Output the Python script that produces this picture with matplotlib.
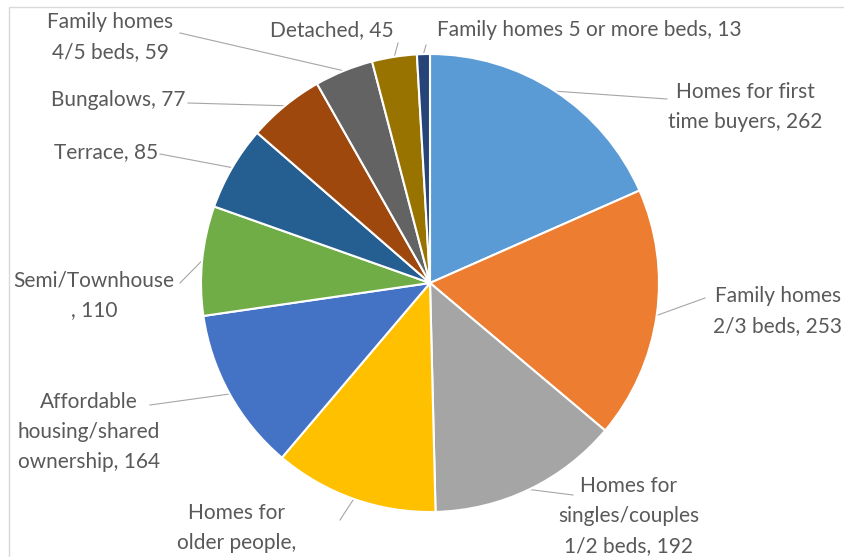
import matplotlib
matplotlib.use("Agg")
import matplotlib.pyplot as plt
import numpy as np
from matplotlib.patches import Rectangle

# ---- data ----
categories = [
    "Homes for first time buyers",
    "Family homes 2/3 beds",
    "Homes for singles/couples 1/2 beds",
    "Homes for older people",
    "Affordable housing/shared ownership",
    "Semi/Townhouse",
    "Terrace",
    "Bungalows",
    "Family homes 4/5 beds",
    "Detached",
    "Family homes 5 or more beds",
]
values = [262, 253, 192, 165, 164, 110, 85, 77, 59, 45, 13]
label_templates = [
    "Homes for first\ntime buyers, {}",
    "Family homes\n2/3 beds, {}",
    "Homes for\nsingles/couples\n1/2 beds, {}",
    "Homes for\nolder people,\n{}",
    "Affordable\nhousing/shared\nownership, {}",
    "Semi/Townhouse\n, {}",
    "Terrace, {}",
    "Bungalows, {}",
    "Family homes\n4/5 beds, {}",
    "Detached, {}",
    "Family homes 5 or more beds, {}",
]
colors = ["#5B9BD5", "#ED7D31", "#A5A5A5", "#FFC000", "#4472C4", "#70AD47",
          "#255E91", "#9E480E", "#636363", "#997300", "#264478"]

# ---- layout (pixel units, y measured from top) ----
W, H = 845, 557
cx, cy, R = 430, 283, 229
label_pos = [(745, 107), (778, 311), (629, 516), (237, 543), (89, 432), (94, 295),
             (106, 152), (118, 100), (110, 37), (332, 30), (589, 30)]
line_end = [(667, 99), (705, 298), (573, 495), (340, 520), (150, 405), (180, 283),
            (160, 154), (188, 103), (180, 33), (398, 43), (426, 45)]

fig = plt.figure(figsize=(W / 100, H / 100), dpi=100)
ax = fig.add_axes([0, 0, 1, 1])
ax.set_xlim(0, W)
ax.set_ylim(0, H)
ax.axis("off")

wedges, _ = ax.pie(values, colors=colors, startangle=90, counterclock=False,
                   center=(cx, H - cy), radius=R,
                   wedgeprops=dict(edgecolor="white", linewidth=1.5))
ax.set_xlim(0, W)
ax.set_ylim(0, H)
ax.set_aspect("equal")

font = dict(family=["Lato", "DejaVu Sans"], size=15, color="#595959")
for w, tmpl, v, (lx, ly), (ex, ey) in zip(wedges, label_templates, values, label_pos, line_end):
    ang = np.deg2rad((w.theta1 + w.theta2) / 2)
    px = cx + R * np.cos(ang)
    py = (H - cy) + R * np.sin(ang)
    ax.plot([px, ex], [py, H - ey], color="#A6A6A6", lw=0.8, zorder=0)
    ax.text(lx, H - ly, tmpl.format(v), ha="center", va="center",
            linespacing=1.6, **font)

fig.patches.append(Rectangle((9 / W, -0.05), 1.1, 1 - 7 / H + 0.05,
                             transform=fig.transFigure, fill=False,
                             edgecolor="#D9D9D9", linewidth=1))
fig.savefig("out.png", dpi=100)
